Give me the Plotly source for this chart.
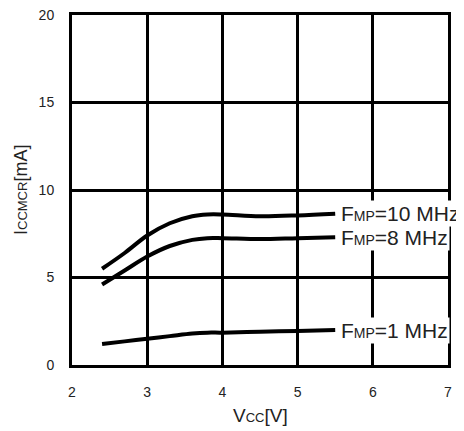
import plotly.graph_objects as go

# Vcc [V] and supply current [mA] per frequency
vcc = [2.4, 2.7, 3.0, 3.3, 3.6, 3.8, 4.0, 4.5, 5.0, 5.5]
i_10mhz = [5.5, 6.4, 7.4, 8.1, 8.5, 8.6, 8.6, 8.5, 8.55, 8.65]
i_8mhz = [4.6, 5.4, 6.2, 6.8, 7.15, 7.25, 7.25, 7.2, 7.25, 7.3]
i_1mhz = [1.2, 1.35, 1.5, 1.65, 1.8, 1.85, 1.85, 1.9, 1.95, 2.0]

FONT = "Liberation Sans, Arial, sans-serif"
TXT = "#222"

series = [
    (i_10mhz, "F<span style='font-size:14px'>MP</span>=10 MHz"),
    (i_8mhz, "F<span style='font-size:14px'>MP</span>=8 MHz"),
    (i_1mhz, "F<span style='font-size:14px'>MP</span>=1 MHz"),
]

fig = go.Figure()
for ys, label in series:
    fig.add_trace(go.Scatter(
        x=vcc, y=ys, mode="lines",
        line=dict(color="black", width=4, shape="spline"),
        showlegend=False, hoverinfo="skip"
    ))
    fig.add_annotation(
        x=vcc[-1], y=ys[-1], text=label, showarrow=False,
        xanchor="left", yanchor="middle", xshift=4,
        bgcolor="white", borderpad=1,
        font=dict(family=FONT, size=21, color=TXT)
    )

axis_common = dict(
    showgrid=True, gridcolor="black", gridwidth=2.5,
    showline=True, linecolor="black", linewidth=3, mirror=True,
    zeroline=False, ticks="outside", ticklen=12, tickcolor="rgba(0,0,0,0)",
    automargin=False, ticklabeloverflow="allow",
    tickfont=dict(family=FONT, size=14, color=TXT),
)

fig.update_xaxes(range=[2, 7], dtick=1, **axis_common)
fig.update_yaxes(range=[0, 20], dtick=5, **axis_common)

# axis titles
fig.add_annotation(
    xref="paper", yref="paper", x=0.5, y=0, yshift=-50,
    text="V<span style='font-size:13px'>CC</span>[V]", showarrow=False,
    xanchor="center", yanchor="middle",
    font=dict(family=FONT, size=19, color=TXT)
)
fig.add_annotation(
    xref="paper", yref="paper", x=0, y=0.5, xshift=-51,
    text="I<span style='font-size:13px'>CCMCR</span>[mA]", showarrow=False,
    textangle=-90, xanchor="center", yanchor="middle",
    font=dict(family=FONT, size=18, color=TXT)
)

# page body has an 8px margin, so shift the plot area back by that much
fig.update_layout(
    width=464, height=431,
    margin=dict(l=64, r=24, t=7, b=74),
    plot_bgcolor="white", paper_bgcolor="white",
)

fig.write_html("out.html")
